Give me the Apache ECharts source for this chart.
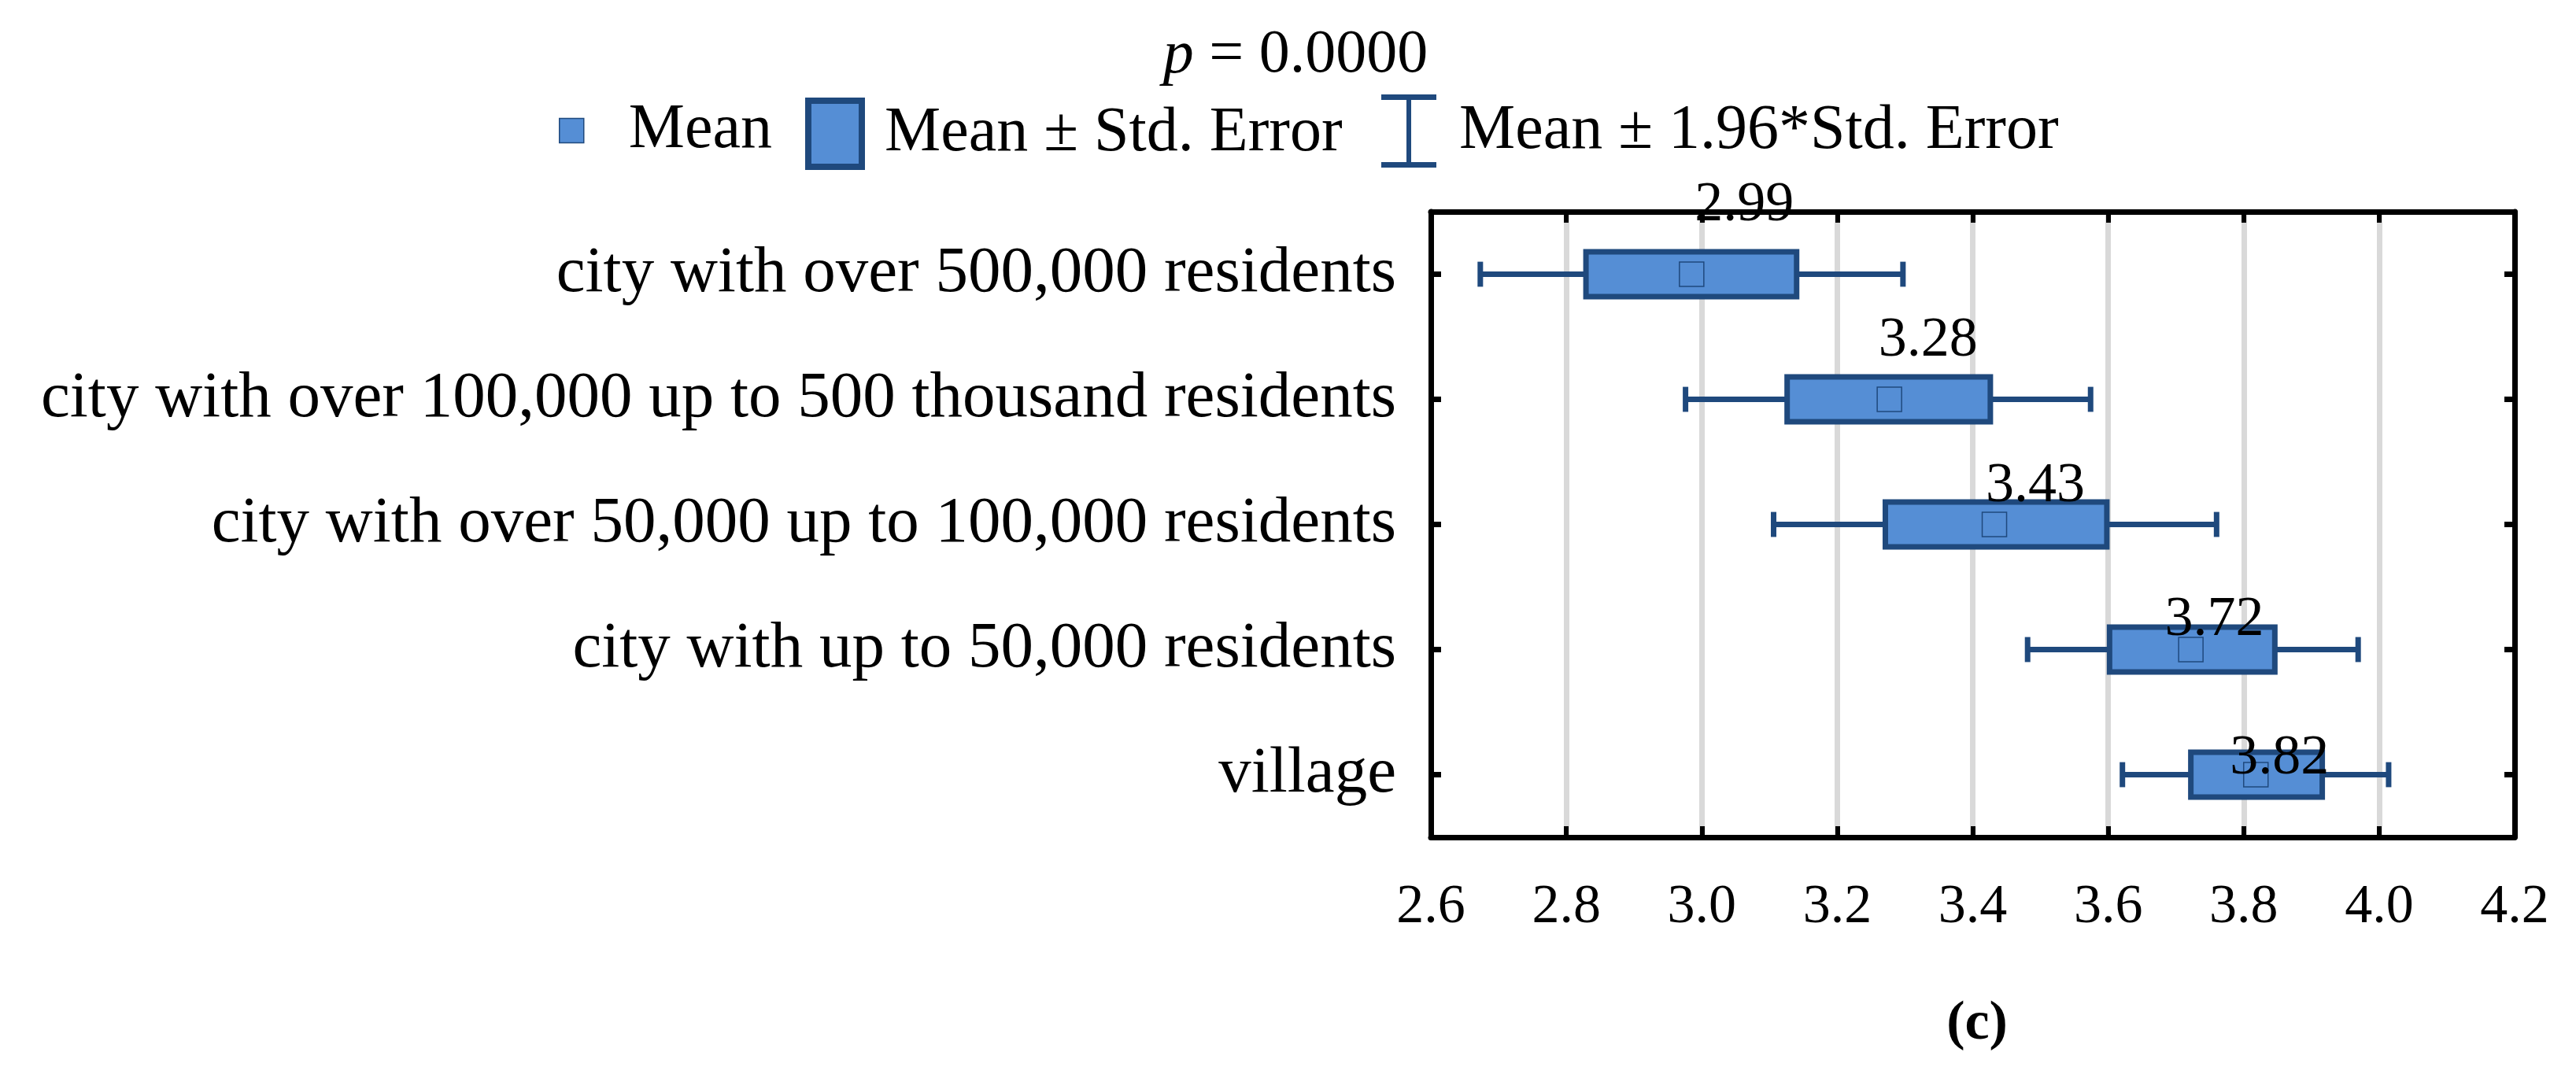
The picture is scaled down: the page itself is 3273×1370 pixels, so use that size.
<!DOCTYPE html>
<html>
<head>
<meta charset="utf-8">
<script src="https://cdn.jsdelivr.net/npm/echarts@6/dist/echarts.min.js"></script>
<style>
html,body{margin:0;padding:0;background:#fff;}
#chart{width:3273px;height:1370px;}
</style>
</head>
<body>
<div id="chart"></div>
<script>
// ---- data ----
const categories = [
  'city with over 500,000 residents',
  'city with over 100,000 up to 500 thousand residents',
  'city with over 50,000 up to 100,000 residents',
  'city with up to 50,000 residents',
  'village'
];
const meanValues = [2.985, 3.277, 3.432, 3.722, 3.818];
const meanLabels = ['2.99', '3.28', '3.43', '3.72', '3.82'];
const seLower = [2.829, 3.126, 3.271, 3.602, 3.722];
const seUpper = [3.140, 3.426, 3.598, 3.846, 3.916];
const ciLower = [2.673, 2.976, 3.106, 3.481, 3.621];
const ciUpper = [3.297, 3.574, 3.760, 3.969, 4.014];
const xMin = 2.6, xMax = 4.2, xStep = 0.2;
const titleText = '0.0000';
const legendNames = ['Mean', 'Mean \u00b1 Std. Error', 'Mean \u00b1 1.96*Std. Error'];
const panelTag = '(c)';

// ---- style ----
const FONT = "'Liberation Serif', 'Times New Roman', serif";
const FILL = '#558ED5';
const EDGE = '#1F497D';
const labelNudgeX = [4, -14, -11, -33, -33];
const labelNudgeY = [-87, -74, -48, -37, -20];

const chart = echarts.init(document.getElementById('chart'));

const boxData = categories.map((c, i) => [i, seLower[i], seUpper[i]]);
const whiskerData = categories.map((c, i) => [i, ciLower[i], ciUpper[i]]);
const meanData = categories.map((c, i) => ({
  value: [meanValues[i], i],
  label: { offset: [labelNudgeX[i], labelNudgeY[i]] }
}));

const option = {
  backgroundColor: '#fff',
  animation: false,
  title: [
    {
      text: '{i|p} = ' + titleText,
      left: 1641, top: 27, textAlign: 'center',
      textStyle: {
        fontFamily: FONT, fontSize: 78, fontWeight: 'normal', color: '#000',
        rich: { i: { fontFamily: FONT, fontSize: 78, fontStyle: 'italic', color: '#000' } }
      }
    },
    {
      text: panelTag,
      left: 2507, top: 1262, textAlign: 'center',
      textStyle: { fontFamily: FONT, fontSize: 70, fontWeight: 'bold', color: '#000' }
    }
  ],
  legend: [
    {
      left: 710, top: 126, padding: 0, itemWidth: 31, itemHeight: 31,
      selectedMode: false,
      textStyle: { fontFamily: FONT, fontSize: 80, color: '#000', padding: [0, 0, 0, 52] },
      data: [{ name: legendNames[0], icon: 'rect',
        itemStyle: { color: FILL, borderColor: EDGE, borderWidth: 1.5 } }]
    },
    {
      left: 1023, top: 124, padding: 0, itemWidth: 68, itemHeight: 84,
      selectedMode: false,
      textStyle: { fontFamily: FONT, fontSize: 80, color: '#000', padding: [0, 0, 0, 24] },
      data: [{ name: legendNames[1], icon: 'rect',
        itemStyle: { color: FILL, borderColor: EDGE, borderWidth: 8 } }]
    },
    {
      left: 1755, top: 120, padding: 0, itemWidth: 70, itemHeight: 93,
      selectedMode: false,
      textStyle: { fontFamily: FONT, fontSize: 80, color: '#000', padding: [0, 0, 0, 24] },
      data: [{ name: legendNames[2],
        icon: 'path://M0,0H70V7H38V86H70V93H0V86H32V7H0Z',
        itemStyle: { color: EDGE, borderWidth: 0 } }]
    }
  ],
  grid: { left: 1818, right: 78, top: 269, bottom: 306, containLabel: false },
  xAxis: [
    {
      type: 'value', position: 'bottom', min: xMin, max: xMax, interval: xStep,
      axisLine: { show: true, lineStyle: { color: '#000', width: 7 } },
      axisTick: { show: true, inside: true, length: 14, lineStyle: { color: '#000', width: 6 } },
      axisLabel: {
        margin: 55, fontFamily: FONT, fontSize: 70, color: '#000',
        formatter: v => v.toFixed(1)
      },
      splitLine: { show: true, lineStyle: { color: '#D9D9D9', width: 7 } }
    },
    {
      type: 'value', position: 'top', min: xMin, max: xMax, interval: xStep,
      axisLine: { show: true, lineStyle: { color: '#000', width: 7 } },
      axisTick: { show: true, inside: true, length: 14, lineStyle: { color: '#000', width: 6 } },
      axisLabel: { show: false },
      splitLine: { show: false }
    }
  ],
  yAxis: [
    {
      type: 'category', data: categories, inverse: true, position: 'left',
      axisLine: { show: true, lineStyle: { color: '#000', width: 7 } },
      axisTick: { show: true, inside: true, alignWithLabel: true, length: 13, lineStyle: { color: '#000', width: 7 } },
      axisLabel: { margin: 44, fontFamily: FONT, fontSize: 83, color: '#000' },
      splitLine: { show: false }
    },
    {
      type: 'category', data: categories, inverse: true, position: 'right',
      axisLine: { show: true, lineStyle: { color: '#000', width: 7 } },
      axisTick: { show: true, inside: true, alignWithLabel: true, length: 13, lineStyle: { color: '#000', width: 7 } },
      axisLabel: { show: false },
      splitLine: { show: false }
    }
  ],
  series: [
    {
      name: legendNames[2], type: 'custom', xAxisIndex: 0, yAxisIndex: 0, z: 2,
      encode: { x: [1, 2], y: 0 },
      itemStyle: { color: EDGE },
      data: whiskerData,
      renderItem: function (params, api) {
        const idx = api.value(0);
        const pL = api.coord([api.value(1), idx]);
        const pR = api.coord([api.value(2), idx]);
        const capH = api.size([0, 1])[1] * 0.2;
        const st = { stroke: EDGE, lineWidth: 7, fill: null };
        return {
          type: 'group',
          children: [
            { type: 'line', shape: { x1: pL[0], y1: pL[1], x2: pR[0], y2: pR[1] }, style: st },
            { type: 'line', shape: { x1: pL[0], y1: pL[1] - capH / 2, x2: pL[0], y2: pL[1] + capH / 2 }, style: st },
            { type: 'line', shape: { x1: pR[0], y1: pR[1] - capH / 2, x2: pR[0], y2: pR[1] + capH / 2 }, style: st }
          ]
        };
      }
    },
    {
      name: legendNames[1], type: 'custom', xAxisIndex: 0, yAxisIndex: 0, z: 3,
      encode: { x: [1, 2], y: 0 },
      itemStyle: { color: FILL, borderColor: EDGE },
      data: boxData,
      renderItem: function (params, api) {
        const idx = api.value(0);
        const pL = api.coord([api.value(1), idx]);
        const pR = api.coord([api.value(2), idx]);
        const h = api.size([0, 1])[1] * 0.36;
        return {
          type: 'rect',
          shape: { x: pL[0], y: pL[1] - h / 2, width: pR[0] - pL[0], height: h },
          style: { fill: FILL, stroke: EDGE, lineWidth: 7 }
        };
      }
    },
    {
      name: legendNames[0], type: 'scatter', xAxisIndex: 0, yAxisIndex: 0, z: 4,
      symbol: 'rect', symbolSize: 31,
      itemStyle: { color: FILL, borderColor: EDGE, borderWidth: 1.5, opacity: 1 },
      label: {
        show: true, position: 'inside', align: 'left', verticalAlign: 'middle',
        fontFamily: FONT, fontSize: 72, color: '#000',
        formatter: p => meanLabels[p.dataIndex]
      },
      emphasis: { disabled: true },
      data: meanData
    }
  ]
};
chart.setOption(option);
</script>
</body>
</html>
